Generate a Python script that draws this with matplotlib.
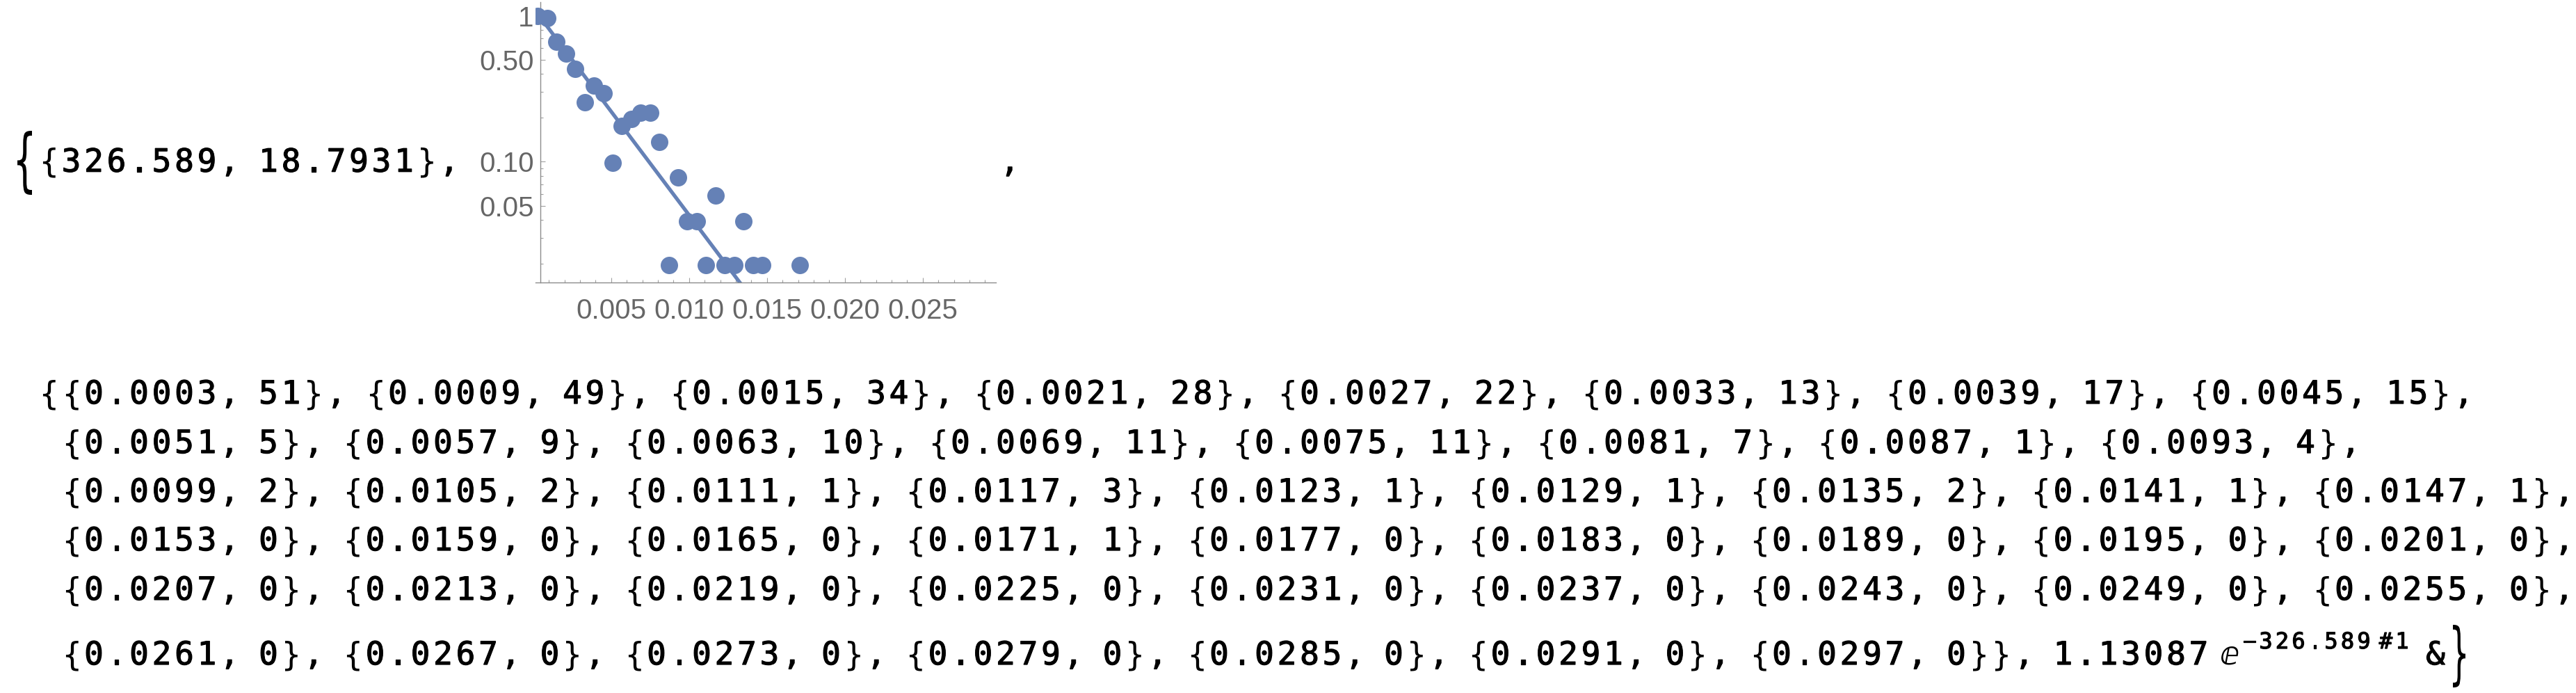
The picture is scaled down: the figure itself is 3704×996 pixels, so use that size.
import numpy as np
import matplotlib
matplotlib.use('Agg')
import matplotlib.pyplot as plt
import matplotlib.patheffects as pe
from matplotlib.ticker import FixedLocator, FixedFormatter, MultipleLocator, NullFormatter
from matplotlib.textpath import TextPath
from matplotlib.patches import PathPatch
from matplotlib.font_manager import FontProperties
from matplotlib.transforms import Affine2D

bin_x = [0.0003, 0.0009, 0.0015, 0.0021, 0.0027, 0.0033, 0.0039, 0.0045,
         0.0051, 0.0057, 0.0063, 0.0069, 0.0075, 0.0081, 0.0087, 0.0093,
         0.0099, 0.0105, 0.0111, 0.0117, 0.0123, 0.0129, 0.0135, 0.0141, 0.0147,
         0.0153, 0.0159, 0.0165, 0.0171, 0.0177, 0.0183, 0.0189, 0.0195, 0.0201,
         0.0207, 0.0213, 0.0219, 0.0225, 0.0231, 0.0237, 0.0243, 0.0249, 0.0255,
         0.0261, 0.0267, 0.0273, 0.0279, 0.0285, 0.0291, 0.0297]
bin_counts = [51, 49, 34, 28, 22, 13, 17, 15,
              5, 9, 10, 11, 11, 7, 1, 4,
              2, 2, 1, 3, 1, 1, 2, 1, 1,
              0, 0, 0, 1, 0, 0, 0, 0, 0,
              0, 0, 0, 0, 0, 0, 0, 0, 0,
              0, 0, 0, 0, 0, 0, 0]
fit_result = ['326.589', '18.7931']
fit_pref = 1.13087
fit_rate = 326.589
pairs_per_line = [8, 8, 9, 9, 9, 7]

x_major = [0.005, 0.010, 0.015, 0.020, 0.025]
x_major_labels = ['0.005', '0.010', '0.015', '0.020', '0.025']
y_major = [0.05, 0.1, 0.5, 1]
y_major_labels = ['0.05', '0.10', '0.50', '1']
y_minor = [0.02, 0.03, 0.04, 0.06, 0.07, 0.08, 0.09,
           0.2, 0.3, 0.4, 0.6, 0.7, 0.8, 0.9]

W, H = 3705, 996
MONO = 'DejaVu Sans Mono'
PITCH = 32.5   # advance of a visible character, px
SPACE = 23.5   # Mathematica's narrower space, px
pt_color = '#6581b6'
heavy = [pe.withStroke(linewidth=0.9, foreground='black')]

fig = plt.figure(figsize=(W / 100, H / 100), dpi=100)

# overlay in pixel coordinates for the notebook text
ax_txt = fig.add_axes([0, 0, 1, 1])
ax_txt.set_xlim(0, W)
ax_txt.set_ylim(H, 0)
ax_txt.axis('off')


def mono(x, y, s, size=33, pitch=PITCH, space=SPACE):
    for ch in s:
        if ch == ' ':
            x += space
            continue
        # braces stay thin like in the notebook
        fx = None if ch in '{}' else heavy
        ax_txt.text(x + pitch / 2, y, ch, ha='center', va='baseline',
                    fontsize=size, family=[MONO, 'DejaVu Sans'], color='black',
                    path_effects=fx)
        x += pitch
    return x


def big_brace(ch, x0, x1, y0, y1):
    tp = TextPath((0, 0), ch, size=1, prop=FontProperties(family='DejaVu Sans'))
    ext = tp.get_extents()
    tr = (Affine2D().translate(-ext.x0, -ext.y1)
          .scale((x1 - x0) / ext.width, -(y1 - y0) / ext.height)
          .translate(x0, y0))
    ax_txt.add_patch(PathPatch(tr.transform_path(tp), fc='black', lw=0))


# first row: {{326.589, 18.7931}, <plot> ,
big_brace('{', 25, 46, 188, 280)
mono(53.75, 246.7, '{' + fit_result[0] + ', ' + fit_result[1] + '},')
mono(1452 - PITCH / 2, 246.7, ',')

# data list
pairs = ['{%.4f, %d}' % (x, c) for x, c in zip(bin_x, bin_counts)]
baselines = [580, 651, 721, 791, 862, 955]
start = 0
for i, n in enumerate(pairs_per_line):
    chunk = ', '.join(pairs[start:start + n])
    start += n
    if i == 0:
        x_end = mono(53.75, baselines[i], '{' + chunk + ',')
    elif i < len(pairs_per_line) - 1:
        x_end = mono(53.75 + PITCH, baselines[i], chunk + ',')
    else:
        x_end = mono(53.75 + PITCH, baselines[i], chunk + '}, %.5f' % fit_pref)

# 1.13087 e^(-326.589 #1) &}
ax_txt.text(x_end + 28, 955, '\u2147', ha='center', va='baseline', fontsize=33,
            family=['DejaVu Sans', MONO], color='black')
xs = mono(x_end + 45, 932, '\u2212' + '%.3f' % fit_rate, size=23, pitch=23.5)
xs = mono(xs + 8, 932, '#1', size=23, pitch=23.5)
mono(3502 - PITCH / 2, 955, '&')
big_brace('}', 3527, 3545, 898, 988)

# log plot
ax = fig.add_axes([770 / W, 1 - 405.7 / H, (1432 - 770) / W, (405.7 - 3.3) / H])
ax.patch.set_alpha(0)
ax.set_yscale('log')

xv = np.array(bin_x)
cv = np.array(bin_counts, dtype=float)
yv = cv / cv.max()
mask = cv > 0
ax.plot(xv[mask], yv[mask], 'o', ms=18, color=pt_color, mec='none', zorder=3)

fit_x = np.array([bin_x[0], bin_x[-1]])
ax.plot(fit_x, fit_pref * np.exp(-fit_rate * fit_x), color=pt_color, lw=3.8,
        solid_capstyle='butt', zorder=2)

ax.set_xlim(0.000147, 0.0297)
ax.set_ylim(0.01493, 1.236)

for side in ['top', 'right']:
    ax.spines[side].set_visible(False)
ax.spines['left'].set_position(('data', 0.000446))
for side in ['left', 'bottom']:
    ax.spines[side].set_color('#8c8c8c')
    ax.spines[side].set_linewidth(1.0)

ax.xaxis.set_major_locator(FixedLocator(x_major))
ax.xaxis.set_major_formatter(FixedFormatter(x_major_labels))
ax.xaxis.set_minor_locator(MultipleLocator(0.001))
ax.yaxis.set_major_locator(FixedLocator(y_major))
ax.yaxis.set_major_formatter(FixedFormatter(y_major_labels))
ax.yaxis.set_minor_locator(FixedLocator(y_minor))
ax.yaxis.set_minor_formatter(NullFormatter())

ax.tick_params(which='both', direction='in', color='#a0a0a0', width=0.8,
               labelcolor='#666666', labelsize=29)
ax.tick_params(which='major', length=5)
ax.tick_params(which='minor', length=3)
ax.tick_params(axis='x', pad=16)
ax.tick_params(axis='y', pad=6.5)
for lab in ax.get_xticklabels() + ax.get_yticklabels():
    lab.set_family('Liberation Sans')

fig.savefig('out.png', dpi=100)
